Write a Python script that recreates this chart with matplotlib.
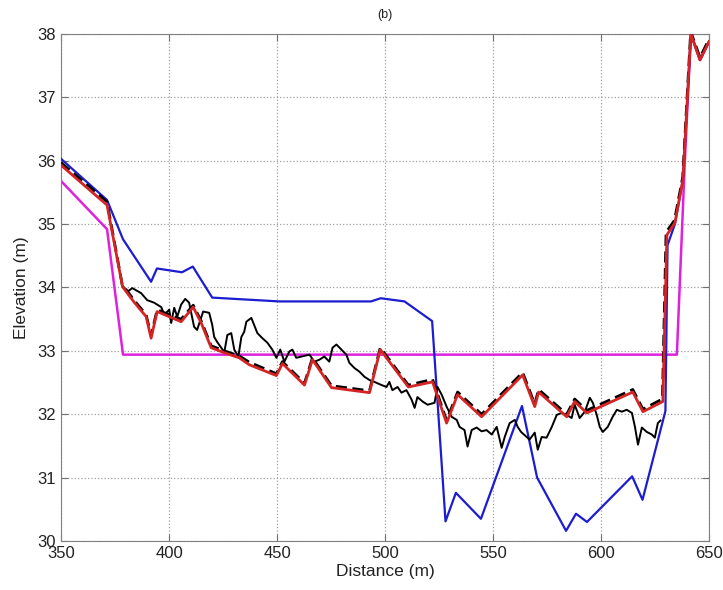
import matplotlib
matplotlib.use("Agg")
import matplotlib.pyplot as plt

plt.rcParams["font.family"] = ["Liberation Sans", "DejaVu Sans"]

# red profile (thick) and the dashed black one under it
red_x = [350, 371.3, 378.5, 383.8, 389.4, 391.7, 394.5, 400, 405.6, 411.2, 414.9, 419.5,
         425.6, 432.5, 437.2, 449.7, 452.5, 462.7, 466.4, 475.2, 492.8, 497.8, 510.8,
         522, 528.5, 533.6, 544.7, 563.7, 569.3, 571.1, 584.1, 587.8, 593.4, 614.7,
         619.4, 628.6, 630.5, 634.2, 637.9, 641.6, 645.8, 650]
red_y = [35.93, 35.30, 34.01, 33.77, 33.54, 33.20, 33.62, 33.54, 33.46, 33.69, 33.44, 33.05,
         32.97, 32.89, 32.78, 32.61, 32.80, 32.46, 32.86, 32.42, 32.34, 33.02, 32.43,
         32.51, 31.86, 32.31, 31.96, 32.62, 32.12, 32.35, 31.96, 32.20, 32.02, 32.35,
         32.04, 32.20, 34.83, 35.02, 35.70, 38.0, 37.59, 37.88]

dash_x = [350, 371.3, 378.3, 383.8, 389.4, 391.7, 394.5, 400, 405.6, 411.2, 414.9, 419.5,
          425.6, 432.5, 437.2, 449.7, 452.5, 462.7, 466.4, 475.2, 492.8, 497.8, 510.8,
          522, 528.5, 533.6, 544.7, 563.7, 569.3, 571.1, 584.1, 587.8, 593.4, 614.7,
          619.4, 628.4, 630.1, 634.0, 637.8, 641.5, 645.8, 650]
dash_y = [35.97, 35.35, 34.05, 33.80, 33.57, 33.24, 33.65, 33.57, 33.50, 33.72, 33.47, 33.08,
          33.00, 32.92, 32.82, 32.64, 32.83, 32.49, 32.89, 32.45, 32.37, 33.05, 32.46,
          32.55, 31.90, 32.35, 32.00, 32.66, 32.16, 32.39, 32.00, 32.24, 32.06, 32.39,
          32.08, 32.24, 34.87, 35.06, 35.74, 38.04, 37.63, 37.92]

# blue profile
blue_x = [350, 371.3, 378.7, 391.7, 394.4, 406, 411, 420, 451, 493.5, 498, 509, 521.8,
          528, 532.8, 544.4, 563.4, 570.4, 583.8, 588.4, 593.5, 614.4, 619.2, 629.8,
          630.8, 634.2, 637.9, 641.6, 645.8, 650]
blue_y = [36.03, 35.38, 34.76, 34.09, 34.30, 34.24, 34.33, 33.84, 33.78, 33.78, 33.83, 33.78,
          33.47, 30.31, 30.76, 30.35, 32.13, 31.00, 30.16, 30.43, 30.30, 31.02, 30.65,
          32.05, 34.67, 35.00, 35.70, 38.0, 37.59, 37.88]

# magenta (flat water level)
mag_x = [350, 371.3, 378.7, 635.1, 638.8, 641.6, 645.8, 650]
mag_y = [35.68, 34.92, 32.94, 32.94, 36.0, 38.0, 37.59, 37.88]

# black measured (noisy) profile
black_x = [378.3, 380.6, 383.0, 387.1, 389.9, 393.1, 396.4, 397.8, 400.1, 401.0, 402.4,
           403.8, 405.6, 407.5, 409.3, 411.6, 413.0, 415.8, 418.6, 420.0, 420.9, 422.3,
           425.6, 427.0, 428.8, 430.2, 432.1, 433.5, 434.8, 435.8, 438.1, 440.9, 443.2,
           445.5, 447.8, 449.7, 451.5, 453.4, 455.7, 457.1, 458.9, 461.3, 465.0, 467.3,
           469.6, 471.9, 474.2, 475.7, 477.5, 479.8, 482.1, 483.5, 485.8, 488.2, 490.5,
           492.8, 495.1, 498.4, 500.7, 502.0, 503.4, 505.8, 507.6, 509.9, 512.3, 513.7,
           515.0, 517.4, 519.7, 522.9, 524.3, 526.2, 528.5, 530.8, 533.2, 534.5, 536.8,
           538.2, 540.1, 542.4, 544.7, 547.0, 549.4, 551.7, 554.0, 555.4, 557.7, 560.1,
           561.4, 563.0, 566.9, 569.3, 570.7, 572.5, 574.8, 577.2, 579.5, 581.8, 584.1,
           586.4, 587.8, 590.1, 592.5, 594.8, 596.2, 598.0, 599.4, 600.8, 603.1, 605.4,
           607.3, 609.6, 611.9, 614.3, 615.7, 617.1, 618.9, 621.2, 623.5, 624.9, 626.3,
           627.5]
black_y = [34.04, 33.93, 33.99, 33.91, 33.80, 33.76, 33.69, 33.57, 33.65, 33.44, 33.68,
           33.54, 33.73, 33.82, 33.76, 33.38, 33.33, 33.62, 33.60, 33.41, 33.22, 33.14,
           32.98, 33.25, 33.28, 33.02, 32.91, 33.22, 33.30, 33.46, 33.52, 33.28, 33.20,
           33.13, 33.02, 32.89, 33.02, 32.83, 32.99, 33.02, 32.89, 32.91, 32.94, 32.83,
           32.86, 32.91, 32.83, 33.05, 33.10, 33.02, 32.94, 32.81, 32.73, 32.67, 32.59,
           32.54, 32.51, 32.46, 32.43, 32.51, 32.38, 32.43, 32.34, 32.38, 32.23, 32.10,
           32.27, 32.20, 32.15, 32.18, 32.43, 32.31, 32.12, 31.96, 31.91, 31.80, 31.75,
           31.49, 31.75, 31.79, 31.73, 31.75, 31.68, 31.80, 31.47, 31.64, 31.86, 31.91,
           31.80, 31.72, 31.60, 31.71, 31.44, 31.64, 31.63, 31.80, 31.99, 32.02, 31.99,
           31.94, 32.15, 31.94, 32.04, 32.26, 32.18, 31.99, 31.80, 31.72, 31.80, 31.96,
           32.07, 32.04, 32.07, 32.02, 31.80, 31.52, 31.79, 31.72, 31.68, 31.63, 31.86,
           31.90]

xticks = [350, 400, 450, 500, 550, 600, 650]
yticks = [30, 31, 32, 33, 34, 35, 36, 37, 38]

fig = plt.figure(figsize=(7.23, 5.90), dpi=100)
ax = fig.add_axes([0.0844, 0.0831, 0.8963, 0.8593])

ax.plot(mag_x, mag_y, color="#dd22dd", lw=1.8, zorder=2)
ax.plot(blue_x, blue_y, color="#1c1cd0", lw=1.6, zorder=3)
ax.plot(black_x, black_y, color="black", lw=1.4, zorder=4)
ax.plot(dash_x, dash_y, color="black", lw=2.0, ls=(0, (4, 2)), zorder=5)
ax.plot(red_x, red_y, color="#d42424", lw=2.0, zorder=6)

ax.set_xlim(350, 650)
ax.set_ylim(30, 38)
ax.set_xticks(xticks)
ax.set_yticks(yticks)
ax.tick_params(direction="in", top=True, right=True, labelsize=12, length=5,
               color="#707070", labelcolor="#222222")
ax.grid(True, ls=":", color="#a0a0a0", lw=0.9)
for s in ax.spines.values():
    s.set_color("#808080")

ax.set_xlabel("Distance (m)", fontsize=12.5, color="#222222", labelpad=2)
ax.set_ylabel("Elevation (m)", fontsize=12.5, color="#222222", labelpad=6)
fig.text(0.533, 0.974, "(b)", ha="center", va="center", fontsize=9, color="#222222")

fig.savefig("out.png", dpi=100)
